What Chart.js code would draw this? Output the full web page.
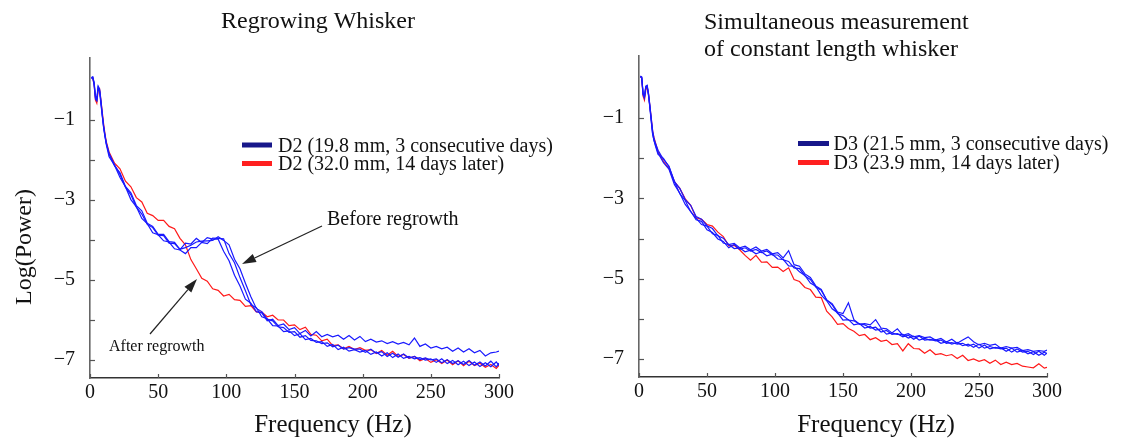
<!DOCTYPE html>
<html>
<head>
<meta charset="utf-8">
<script src="https://cdn.jsdelivr.net/npm/chart.js@4.4.1/dist/chart.umd.min.js"></script>
<style>
  html, body { margin: 0; padding: 0; background: #fff; }
  #wrap { position: relative; width: 1131px; height: 443px; overflow: hidden; }
  .box { position: absolute; top: 0; height: 443px; }
  #b1 { left: 0; width: 565px; }
  #b2 { left: 565px; width: 566px; }
</style>
</head>
<body>
<div id="wrap">
  <div class="box" id="b1"><canvas id="c1"></canvas></div>
  <div class="box" id="b2"><canvas id="c2"></canvas></div>
</div>
<script>
// ---------- data ----------
const freqs = [1,2,3,4,5,6,7,8,9,10,11,12,
  14,18,22,26,30,34,38,42,46,50,
  54,58,62,66,70,74,78,82,86,90,
  94,98,102,106,110,114,118,122,126,130,
  134,138,142,146,150,154,158,162,166,170,
  174,178,182,186,190,194,198,202,206,210,
  214,218,222,226,230,234,238,242,246,250,
  254,258,262,266,270,274,278,282,286,290,
  294,298,300];

// Regrowing whisker (D2)
const leftBlueA = [0.06,0.08,-0.05,-0.40,-0.45,-0.15,-0.22,-0.50,-0.85,-1.15,-1.38,-1.60,
  -1.86,-2.15,-2.32,-2.66,-2.82,-3.14,-3.27,-3.58,-3.66,-3.86,
  -3.86,-4.04,-4.06,-4.24,-4.08,-4.10,-3.96,-4.06,-3.94,-3.98,
  -3.98,-4.28,-4.52,-4.88,-5.15,-5.48,-5.58,-5.79,-5.82,-6.02,
  -5.98,-6.14,-6.10,-6.24,-6.19,-6.34,-6.26,-6.40,-6.29,-6.42,
  -6.36,-6.42,-6.38,-6.48,-6.39,-6.50,-6.41,-6.54,-6.48,-6.55,
  -6.52,-6.59,-6.54,-6.60,-6.56,-6.62,-6.45,-6.66,-6.60,-6.70,
  -6.66,-6.72,-6.68,-6.78,-6.70,-6.80,-6.72,-6.82,-6.76,-6.90,
  -6.82,-6.80,-6.78];
const leftBlueB = [0.04,0.06,-0.12,-0.48,-0.52,-0.20,-0.28,-0.60,-0.90,-1.20,-1.42,-1.62,
  -1.92,-2.13,-2.44,-2.67,-2.99,-3.17,-3.46,-3.59,-3.82,-3.87,
  -4.02,-4.05,-4.22,-4.25,-4.34,-4.19,-4.19,-4.06,-4.09,-3.95,
  -3.96,-3.97,-4.34,-4.57,-4.94,-5.27,-5.62,-5.69,-5.92,-5.97,
  -6.14,-6.15,-6.29,-6.27,-6.39,-6.34,-6.49,-6.46,-6.56,-6.54,
  -6.66,-6.61,-6.74,-6.68,-6.78,-6.74,-6.80,-6.76,-6.86,-6.80,
  -6.90,-6.82,-6.94,-6.85,-6.96,-6.91,-6.97,-6.94,-7.00,-6.97,
  -7.06,-6.97,-7.09,-7.01,-7.12,-7.03,-7.14,-7.05,-7.16,-7.07,
  -7.17,-7.05,-7.14];
const leftBlueC = [0.05,0.07,-0.08,-0.44,-0.50,-0.18,-0.25,-0.55,-0.88,-1.18,-1.40,-1.58,
  -1.83,-2.12,-2.36,-2.68,-2.87,-3.18,-3.35,-3.61,-3.69,-3.88,
  -3.89,-4.08,-4.09,-4.23,-4.19,-4.13,-4.05,-4.03,-4.02,-4.01,
  -3.92,-4.01,-4.12,-4.48,-4.72,-5.08,-5.42,-5.71,-5.79,-5.98,
  -6.02,-6.17,-6.19,-6.31,-6.29,-6.43,-6.39,-6.51,-6.52,-6.59,
  -6.57,-6.67,-6.63,-6.73,-6.69,-6.73,-6.73,-6.81,-6.73,-6.83,
  -6.79,-6.91,-6.83,-6.93,-6.85,-6.95,-6.91,-6.99,-6.95,-7.00,
  -6.97,-7.07,-6.99,-7.09,-7.02,-7.11,-7.01,-7.13,-7.05,-7.15,
  -7.03,-7.17,-7.08];
const leftRed = [0.05,0.05,-0.10,-0.50,-0.58,-0.25,-0.22,-0.50,-0.80,-1.10,-1.35,-1.55,
  -1.80,-2.08,-2.22,-2.53,-2.67,-2.94,-3.05,-3.33,-3.39,-3.51,
  -3.51,-3.66,-3.72,-3.96,-4.12,-4.49,-4.72,-4.96,-5.03,-5.22,
  -5.26,-5.40,-5.36,-5.49,-5.51,-5.66,-5.64,-5.80,-5.80,-5.92,
  -5.88,-6.00,-6.00,-6.14,-6.12,-6.24,-6.18,-6.36,-6.38,-6.52,
  -6.48,-6.64,-6.62,-6.72,-6.66,-6.74,-6.69,-6.76,-6.74,-6.84,
  -6.76,-6.88,-6.78,-6.91,-6.86,-6.96,-6.91,-7.02,-6.96,-7.06,
  -6.99,-7.09,-7.00,-7.12,-7.02,-7.14,-7.03,-7.14,-7.08,-7.18,
  -7.11,-7.21,-7.13];

// Constant length whisker (D3)
const rightBlueA = [0.05,0.03,-0.38,-0.45,-0.20,-0.18,-0.38,-0.68,-1.00,-1.30,-1.50,-1.62,
  -1.80,-2.03,-2.19,-2.58,-2.75,-3.03,-3.17,-3.45,-3.52,-3.68,
  -3.75,-3.93,-3.99,-4.15,-4.12,-4.23,-4.19,-4.28,-4.21,-4.31,
  -4.27,-4.38,-4.35,-4.48,-4.30,-4.65,-4.69,-4.88,-4.97,-5.18,
  -5.27,-5.53,-5.62,-5.83,-5.87,-5.60,-6.02,-6.13,-6.12,-6.15,
  -6.02,-6.23,-6.25,-6.35,-6.25,-6.41,-6.37,-6.45,-6.42,-6.47,
  -6.45,-6.53,-6.49,-6.58,-6.51,-6.61,-6.53,-6.45,-6.57,-6.65,
  -6.61,-6.66,-6.63,-6.73,-6.69,-6.73,-6.71,-6.79,-6.77,-6.81,
  -6.79,-6.81,-6.78];
const rightBlueB = [0.04,0.02,-0.40,-0.50,-0.24,-0.20,-0.42,-0.72,-1.05,-1.38,-1.55,-1.68,
  -1.90,-2.00,-2.21,-2.57,-2.88,-3.05,-3.33,-3.49,-3.65,-3.69,
  -3.88,-3.92,-4.11,-4.15,-4.25,-4.23,-4.33,-4.29,-4.38,-4.33,
  -4.43,-4.39,-4.51,-4.52,-4.68,-4.69,-4.83,-4.92,-5.11,-5.19,
  -5.41,-5.55,-5.75,-5.85,-6.03,-6.02,-6.15,-6.12,-6.23,-6.19,
  -6.28,-6.25,-6.38,-6.35,-6.39,-6.39,-6.48,-6.43,-6.53,-6.49,
  -6.53,-6.52,-6.61,-6.57,-6.63,-6.59,-6.67,-6.63,-6.71,-6.63,
  -6.73,-6.69,-6.73,-6.72,-6.81,-6.73,-6.83,-6.79,-6.87,-6.82,
  -6.91,-6.83,-6.87];
const rightBlueC = [0.03,0.00,-0.42,-0.48,-0.22,-0.22,-0.44,-0.74,-1.08,-1.40,-1.55,-1.65,
  -1.87,-2.11,-2.27,-2.65,-2.87,-3.15,-3.32,-3.53,-3.57,-3.78,
  -3.85,-4.01,-4.07,-4.23,-4.15,-4.27,-4.23,-4.31,-4.27,-4.35,
  -4.31,-4.41,-4.41,-4.53,-4.57,-4.73,-4.75,-4.93,-5.02,-5.21,
  -5.29,-5.53,-5.65,-5.87,-5.92,-6.03,-6.05,-6.13,-6.15,-6.23,
  -6.21,-6.33,-6.29,-6.39,-6.37,-6.45,-6.41,-6.51,-6.43,-6.53,
  -6.51,-6.55,-6.53,-6.61,-6.59,-6.63,-6.61,-6.68,-6.63,-6.73,
  -6.65,-6.75,-6.71,-6.75,-6.73,-6.83,-6.75,-6.83,-6.81,-6.89,
  -6.81,-6.91,-6.85];
const rightRed = [0.04,0.00,-0.45,-0.55,-0.30,-0.22,-0.40,-0.70,-1.00,-1.32,-1.48,-1.60,
  -1.83,-2.08,-2.25,-2.58,-2.75,-3.01,-3.17,-3.48,-3.52,-3.65,
  -3.69,-3.84,-3.95,-4.18,-4.17,-4.28,-4.42,-4.54,-4.42,-4.59,
  -4.58,-4.72,-4.71,-4.82,-4.73,-5.02,-5.07,-5.22,-5.27,-5.46,
  -5.47,-5.81,-5.95,-6.14,-6.12,-6.24,-6.31,-6.42,-6.39,-6.52,
  -6.47,-6.56,-6.53,-6.64,-6.62,-6.80,-6.62,-6.74,-6.75,-6.86,
  -6.77,-6.89,-6.87,-6.92,-6.89,-6.99,-6.91,-7.04,-7.00,-7.06,
  -7.02,-7.11,-7.03,-7.14,-7.08,-7.14,-7.11,-7.18,-7.20,-7.22,
  -7.12,-7.23,-7.21];

const xTickValues = [0, 50, 100, 150, 200, 250, 300];
const xTickLabels = ['0', '50', '100', '150', '200', '250', '300'];
const yTickValues = [-7, -6, -5, -4, -3, -2, -1];
const yTickLabels = ['\u22127', '', '\u22125', '', '\u22123', '', '\u22121'];

const leftLegend = ['D2 (19.8 mm, 3 consecutive days)', 'D2 (32.0 mm, 14 days later)'];
const rightLegend = ['D3 (21.5 mm, 3 consecutive days)', 'D3 (23.9 mm, 14 days later)'];
const leftTitle = ['Regrowing Whisker'];
const rightTitle = ['Simultaneous measurement', 'of constant length whisker'];
const xTitle = 'Frequency (Hz)';
const yTitle = 'Log(Power)';
const annoBefore = 'Before regrowth';
const annoAfter = 'After regrowth';

// ---------- styling ----------
const SERIF = '"Liberation Serif", "Times New Roman", serif';
const BLUE = 'rgb(25,25,255)';
const RED = 'rgb(255,25,25)';
const NAVY = '#17178a';
const LEG_RED = '#ff2020';

function pts(vals) { return freqs.map((f, i) => ({ x: f, y: vals[i] })); }

function makeDecor(cfg) {
  return {
    id: 'decor',
    afterDraw(chart) {
      const ctx = chart.ctx;
      const xs = chart.scales.x, ys = chart.scales.y;
      const ca = chart.chartArea;
      ctx.save();
      // inward tick marks
      ctx.strokeStyle = '#555';
      ctx.lineWidth = 1.2;
      ys.ticks.forEach(t => {
        const py = Math.round(ys.getPixelForValue(t.value)) + 0.5;
        ctx.beginPath(); ctx.moveTo(ca.left, py); ctx.lineTo(ca.left + 5, py); ctx.stroke();
      });
      xs.ticks.forEach(t => {
        const px = Math.round(xs.getPixelForValue(t.value)) + 0.5;
        ctx.beginPath(); ctx.moveTo(px, ca.bottom); ctx.lineTo(px, ca.bottom - 4); ctx.stroke();
      });
      // texts
      ctx.fillStyle = '#111';
      ctx.textBaseline = 'alphabetic';
      cfg.texts.forEach(t => {
        ctx.font = t.font;
        ctx.textAlign = t.align;
        if (t.rot) {
          ctx.save(); ctx.translate(t.x, t.y); ctx.rotate(t.rot);
          ctx.textBaseline = 'middle';
          ctx.fillText(t.text, 0, 0); ctx.restore();
        } else {
          ctx.fillText(t.text, t.x, t.y);
        }
      });
      // legend
      const lg = cfg.legend;
      lg.labels.forEach((lab, i) => {
        const y = lg.y + i * lg.dy;
        ctx.strokeStyle = lg.colors[i];
        ctx.lineWidth = 5;
        ctx.beginPath(); ctx.moveTo(lg.x0, y); ctx.lineTo(lg.x1, y); ctx.stroke();
        ctx.fillStyle = '#111';
        ctx.font = '20px ' + SERIF;
        ctx.textAlign = 'left';
        ctx.fillText(lab, lg.tx, y + 6.5);
      });
      // arrows
      (cfg.arrows || []).forEach(a => {
        const ang = Math.atan2(a.y1 - a.y0, a.x1 - a.x0);
        const L = 14, W = 4.5;
        const bx = a.x1 - L * Math.cos(ang), by = a.y1 - L * Math.sin(ang);
        ctx.strokeStyle = '#222'; ctx.fillStyle = '#222'; ctx.lineWidth = 1.2;
        ctx.beginPath(); ctx.moveTo(a.x0, a.y0); ctx.lineTo(bx, by); ctx.stroke();
        ctx.beginPath();
        ctx.moveTo(a.x1, a.y1);
        ctx.lineTo(bx + W * Math.sin(ang), by - W * Math.cos(ang));
        ctx.lineTo(bx - W * Math.sin(ang), by + W * Math.cos(ang));
        ctx.closePath(); ctx.fill();
      });
      ctx.restore();
    }
  };
}

function makeChart(canvasId, series, cfg) {
  const datasets = series.map(s => ({
    label: s.label,
    data: pts(s.values),
    borderColor: s.color,
    borderWidth: 1.2,
    pointRadius: 0,
    tension: 0,
    fill: false
  }));
  return new Chart(document.getElementById(canvasId), {
    type: 'line',
    data: { datasets },
    options: {
      responsive: true,
      maintainAspectRatio: false,
      animation: false,
      devicePixelRatio: 1,
      layout: { padding: cfg.padding },
      plugins: { legend: { display: false }, tooltip: { enabled: false }, title: { display: false } },
      scales: {
        x: {
          type: 'linear', min: 0, max: 300,
          afterBuildTicks: s => { s.ticks = xTickValues.map(v => ({ value: v })); },
          afterFit: s => { s.height = 40; },
          ticks: {
            autoSkip: false, maxRotation: 0, padding: 3, color: '#111',
            font: { family: SERIF, size: 20 },
            callback: (v) => { const i = xTickValues.indexOf(v); return i >= 0 ? xTickLabels[i] : ''; }
          },
          grid: { drawOnChartArea: false, drawTicks: false },
          border: { color: '#333', width: 1.6 }
        },
        y: {
          type: 'linear', min: -7.45, max: 0.55,
          afterBuildTicks: s => { s.ticks = yTickValues.map(v => ({ value: v })); },
          afterFit: s => { s.width = cfg.yWidth; },
          ticks: {
            autoSkip: false, padding: 15, color: '#111',
            font: { family: SERIF, size: 20 },
            callback: (v) => { const i = yTickValues.indexOf(v); return i >= 0 ? yTickLabels[i] : ''; }
          },
          grid: { drawOnChartArea: false, drawTicks: false },
          border: { color: '#666', width: 1.6 }
        }
      }
    },
    plugins: [makeDecor(cfg)]
  });
}

makeChart('c1', [
  { label: leftLegend[0], values: leftBlueA, color: BLUE },
  { label: leftLegend[0], values: leftBlueB, color: BLUE },
  { label: leftLegend[0], values: leftBlueC, color: BLUE },
  { label: leftLegend[1], values: leftRed, color: RED }
], {
  padding: { left: 0, right: 66, top: 58, bottom: 25 },
  yWidth: 90,
  texts: [
    { text: leftTitle[0], x: 318, y: 28, font: '24px ' + SERIF, align: 'center' },
    { text: xTitle, x: 333, y: 432, font: '25px ' + SERIF, align: 'center' },
    { text: yTitle, x: 25, y: 247, font: '24px ' + SERIF, align: 'center', rot: -Math.PI / 2 },
    { text: annoBefore, x: 327, y: 225, font: '20px ' + SERIF, align: 'left' },
    { text: annoAfter, x: 109, y: 351, font: '16px ' + SERIF, align: 'left' }
  ],
  legend: { labels: leftLegend, colors: [NAVY, LEG_RED], x0: 242, x1: 272, y: 145, dy: 18.5, tx: 278 },
  arrows: [
    { x0: 322, y0: 226, x1: 242, y1: 264 },
    { x0: 150, y0: 334, x1: 197, y1: 279 }
  ]
});

makeChart('c2', [
  { label: rightLegend[0], values: rightBlueA, color: BLUE },
  { label: rightLegend[0], values: rightBlueB, color: BLUE },
  { label: rightLegend[0], values: rightBlueC, color: BLUE },
  { label: rightLegend[1], values: rightRed, color: RED }
], {
  padding: { left: 0, right: 84, top: 56, bottom: 26 },
  yWidth: 74,
  texts: [
    { text: rightTitle[0], x: 139, y: 29, font: '24px ' + SERIF, align: 'left' },
    { text: rightTitle[1], x: 139, y: 56, font: '24px ' + SERIF, align: 'left' },
    { text: xTitle, x: 311, y: 432, font: '25px ' + SERIF, align: 'center' }
  ],
  legend: { labels: rightLegend, colors: [NAVY, LEG_RED], x0: 233, x1: 264, y: 143.5, dy: 19, tx: 268.5 },
  arrows: []
});
</script>
</body>
</html>
